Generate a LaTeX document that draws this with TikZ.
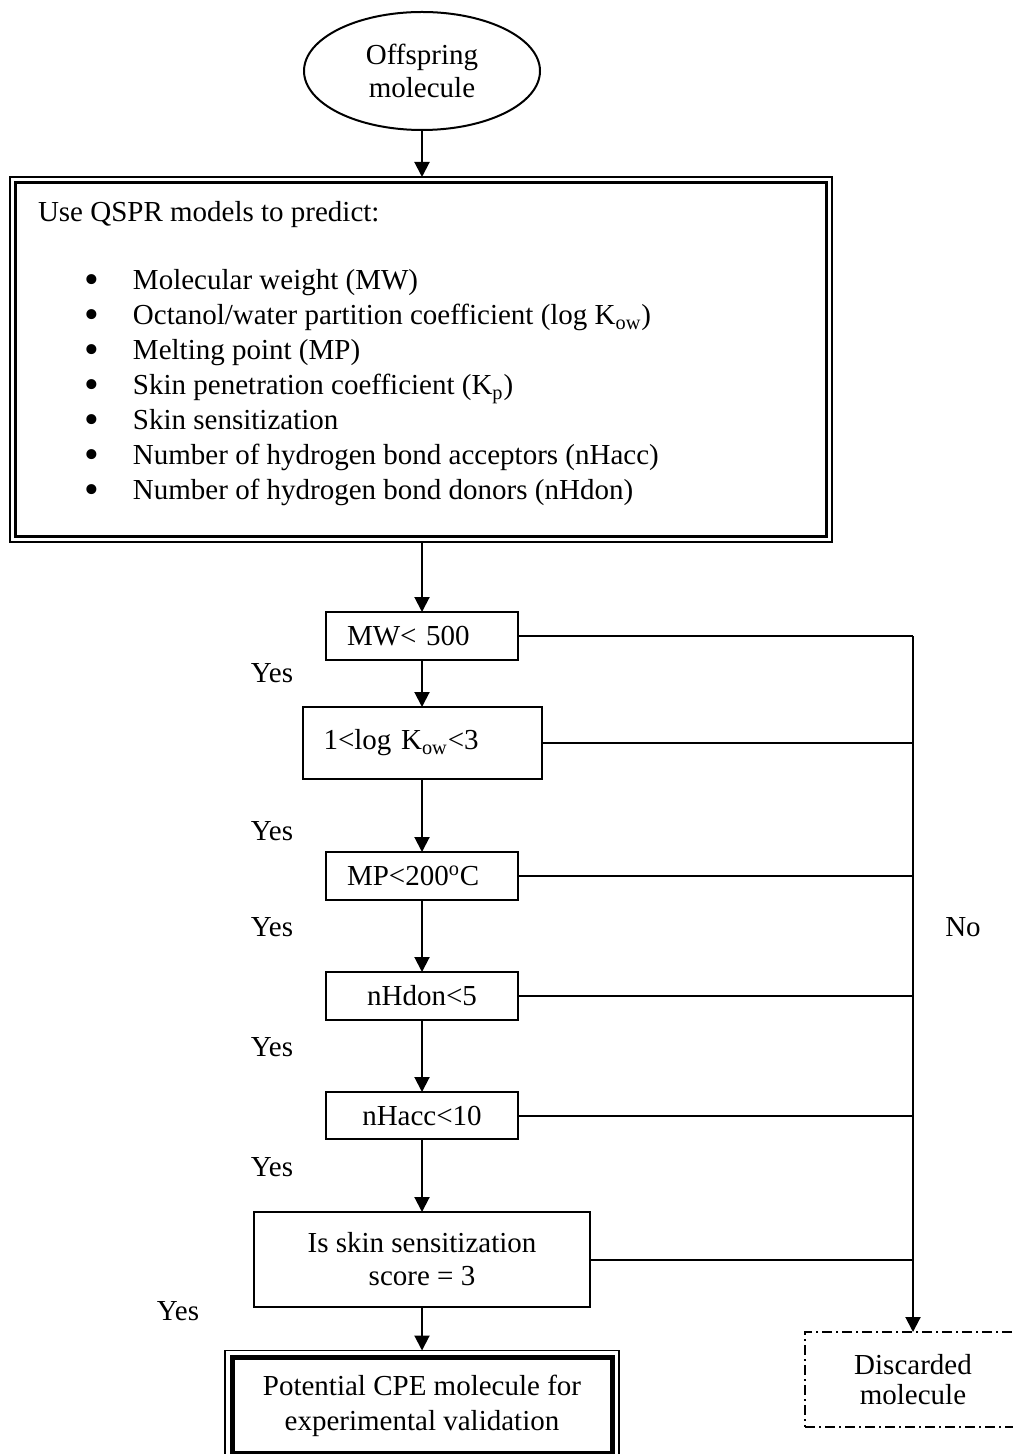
\documentclass[tikz,border=0pt]{standalone}
\usepackage{fontspec}
\setmainfont{Liberation Serif}
\usetikzlibrary{arrows.meta,shapes.geometric}
\newcommand{\qitem}[1]{\makebox[47.5pt][l]{\hspace{23pt}\smash{\raisebox{-1.6pt}{\fontsize{21pt}{21pt}\selectfont\textbullet}}}#1\par}

\begin{document}
\begin{tikzpicture}[x=0.5pt,y=-0.5pt,line width=1pt,
    font=\fontsize{14.5pt}{16.5pt}\selectfont,
    start_node/.style={ellipse,draw,inner sep=0pt,outer sep=0pt,minimum width=118pt,minimum height=59pt,align=center},
    qspr_node/.style={rectangle,draw,line width=0.6pt,inner sep=0pt,outer sep=0pt},
    test_node/.style={rectangle,draw,inner sep=0pt,outer sep=0pt,align=center},
    left_node/.style={test_node,align=left,inner xsep=10.5pt},
    end_node/.style={rectangle,draw,line width=2.5pt,inner sep=0pt,outer sep=0pt,align=center,minimum width=190pt,minimum height=48pt,font=\fontsize{14.5pt}{17.5pt}\selectfont},
    drop_node/.style={rectangle,draw,dash pattern=on 5pt off 2pt on 1pt off 2pt,inner sep=0pt,outer sep=0pt,align=center,minimum width=108pt,minimum height=47.5pt,font=\fontsize{14.5pt}{15pt}\selectfont},
    arr/.style={-{Triangle[length=7.5pt,width=7.5pt]}}]

    \useasboundingbox (0,0) rectangle (1012,1454);

    \node[start_node] (off) at (422,71) {Offspring\\molecule};

    \node[qspr_node] (qspr) at (421,359.5) {\begin{minipage}[c][182.5pt][t]{411pt}
        \baselineskip=17.5pt \parindent=0pt \leftskip=14pt
        \rule{0pt}{22.5pt}Use QSPR models to predict:\par
        \vspace{16.5pt}
        \qitem{Molecular weight (MW)}
        \qitem{Octanol/water partition coefficient (log K\textsubscript{ow})}
        \qitem{Melting point (MP)}
        \qitem{Skin penetration coefficient (K\textsubscript{p})}
        \qitem{Skin sensitization}
        \qitem{Number of hydrogen bond acceptors (nHacc)}
        \qitem{Number of hydrogen bond donors (nHdon)}
    \end{minipage}};
    \draw[line width=1.2pt] ([shift={(2.75pt,-2.75pt)}]qspr.north west) rectangle ([shift={(-2.75pt,2.75pt)}]qspr.south east);

    \node[left_node,text width=75pt,minimum height=24pt] (mw) at (422,636) {MW< 500};
    \node[left_node,text width=98.5pt,minimum height=36pt] (logk) at (422,743) {1<log K\textsubscript{ow}<3};
    \node[left_node,text width=75pt,minimum height=24pt] (mp) at (422,876) {MP<200\textsuperscript{o}C};
    \node[test_node,minimum width=96pt,minimum height=24pt] (hdon) at (422,996) {nHdon<5};
    \node[test_node,minimum width=96pt,minimum height=23.5pt] (hacc) at (422,1115.5) {nHacc<10};
    \node[test_node,minimum width=168pt,minimum height=47.5pt] (skin) at (422,1259.5) {Is skin sensitization\\score = 3};

    \node[end_node] (fin) at (422,1405.5) {Potential CPE molecule for\\experimental validation};
    \draw[line width=0.6pt] ([shift={(-3.5pt,3.5pt)}]fin.north west) rectangle ([shift={(3.5pt,-3.5pt)}]fin.south east);
    \coordinate (fin_top) at ([yshift=3.5pt]fin.north);

    \node[drop_node] (disc) at (913,1379.5) {Discarded\\molecule};

    \node (yes1) at (272,673) {Yes};
    \node (yes2) at (272,831) {Yes};
    \node (yes3) at (272,927) {Yes};
    \node (yes4) at (272,1047) {Yes};
    \node (yes5) at (272,1167) {Yes};
    \node (yes6) at (178,1311) {Yes};
    \node (no) at (963,927) {No};

    \path[draw]
    (off.south) edge[arr] (off.south |- qspr.north)
    (mw.north |- qspr.south) edge[arr] (mw.north)
    (mw.south) edge[arr] (logk.north)
    (logk.south) edge[arr] (mp.north)
    (mp.south) edge[arr] (hdon.north)
    (hdon.south) edge[arr] (hacc.north)
    (hacc.south) edge[arr] (skin.north)
    (skin.south) edge[arr] (fin_top)
    (mw.east -| disc.north) edge[arr] (disc.north)
    ;

    \foreach \b in {mw,logk,mp,hdon,hacc,skin}
        \draw (\b.east) -- (\b.east -| disc.north);
\end{tikzpicture}
\end{document}
